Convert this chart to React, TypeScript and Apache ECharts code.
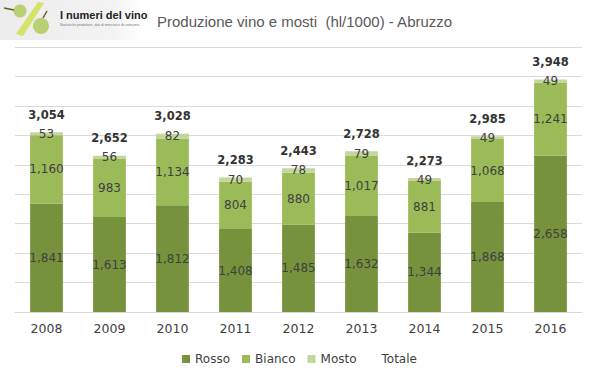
import React, { useEffect, useRef } from "react";
import * as echarts from "echarts";

const years = ["2008", "2009", "2010", "2011", "2012", "2013", "2014", "2015", "2016"];
const rosso = [1841, 1613, 1812, 1408, 1485, 1632, 1344, 1868, 2658];
const bianco = [1160, 983, 1134, 804, 880, 1017, 881, 1068, 1241];
const mosto = [53, 56, 82, 70, 78, 79, 49, 49, 49];
const totale = [3054, 2652, 3028, 2283, 2443, 2728, 2273, 2985, 3948];

const FONT = "DejaVu Sans";

export default function App() {
  const ref = useRef<HTMLDivElement>(null);
  useEffect(() => {
    document.body.style.margin = "0";
    const chart = echarts.init(ref.current!, null, { renderer: "svg" });
    const lbl = { show: true, position: "inside", color: "#404040", fontFamily: FONT, fontSize: 12, formatter: (p: any) => p.value.toLocaleString("en-US") };
    chart.setOption({
      animation: false,
      backgroundColor: "#ffffff",
      grid: { left: 15, right: 17, top: 47, bottom: 66 },
      xAxis: {
        type: "category",
        data: years,
        axisTick: { show: false },
        axisLine: { lineStyle: { color: "#d9d9d9" } },
        axisLabel: { color: "#404040", fontFamily: FONT, fontSize: 12.5, margin: 10 },
      },
      yAxis: {
        type: "value",
        min: 0,
        max: 4500,
        interval: 500,
        axisLabel: { show: false },
        splitLine: { lineStyle: { color: "#d9d9d9" } },
      },
      legend: {
        bottom: 8,
        left: "center",
        itemWidth: 8,
        itemHeight: 8,
        itemGap: 12,
        textStyle: { color: "#404040", fontFamily: FONT, fontSize: 12 },
        data: [
          { name: "Rosso", icon: "rect" },
          { name: "Bianco", icon: "rect" },
          { name: "Mosto", icon: "rect" },
          { name: "Totale", icon: "rect", itemStyle: { color: "rgba(0,0,0,0)" } },
        ],
      },
      series: [
        { name: "Rosso", type: "bar", stack: "a", barWidth: "52%", data: rosso, itemStyle: { color: "#77923c" }, label: lbl },
        { name: "Bianco", type: "bar", stack: "a", data: bianco, itemStyle: { color: "#9bbb59" }, label: lbl },
        { name: "Mosto", type: "bar", stack: "a", data: mosto, itemStyle: { color: "#c3d69b" }, label: lbl },
        {
          name: "Totale",
          type: "line",
          data: totale,
          symbol: "circle",
          symbolSize: 1,
          showSymbol: true,
          lineStyle: { opacity: 0 },
          itemStyle: { color: "rgba(0,0,0,0)" },
          label: {
            show: true,
            position: "top",
            distance: 11,
            color: "#333333",
            fontWeight: "bold",
            fontFamily: FONT,
            fontSize: 11.5,
            formatter: (p: any) => p.value.toLocaleString("en-US"),
          },
        },
      ],
      graphic: [
        {
          type: "rect",
          shape: { x: 0, y: 0, width: 142, height: 40 },
          style: {
            fill: new echarts.graphic.LinearGradient(0, 0, 1, 0, [
              { offset: 0, color: "#ececec" },
              { offset: 0.8, color: "#f3f3f3" },
              { offset: 1, color: "#ffffff" },
            ]),
          },
        },
        {
          type: "polygon",
          shape: { points: [[38, 2], [44, 3], [23, 36], [16, 34]] },
          style: { fill: "#d4e36a" },
        },
        { type: "circle", shape: { cx: 20, cy: 11, r: 6.5 }, style: { fill: "#b9d173" } },
        { type: "line", shape: { x1: 4, y1: 8, x2: 14, y2: 10 }, style: { stroke: "#6b5a2a", lineWidth: 1.5 } },
        { type: "circle", shape: { cx: 41, cy: 26, r: 8 }, style: { fill: "#b9d173" } },
        { type: "line", shape: { x1: 43, y1: 18, x2: 47, y2: 11 }, style: { stroke: "#6b5a2a", lineWidth: 1.5 } },
        {
          type: "text",
          x: 60,
          y: 9,
          style: { text: "I numeri del vino", fill: "#222222", fontFamily: "Liberation Sans Narrow, Liberation Sans", fontWeight: "bold", fontSize: 11 },
        },
        {
          type: "text",
          x: 60,
          y: 23,
          style: { text: "Statistiche produttive, dati di mercato e di consumo.", fill: "#777777", fontFamily: "Liberation Sans", fontSize: 3.5 },
        },
        {
          type: "text",
          x: 157,
          y: 14,
          style: { text: "Produzione vino e mosti  (hl/1000) - Abruzzo", fill: "#595959", fontFamily: "Liberation Sans", fontSize: 15 },
        },
      ],
    });
    return () => chart.dispose();
  }, []);
  return <div ref={ref} style={{ width: 599, height: 378 }} />;
}
